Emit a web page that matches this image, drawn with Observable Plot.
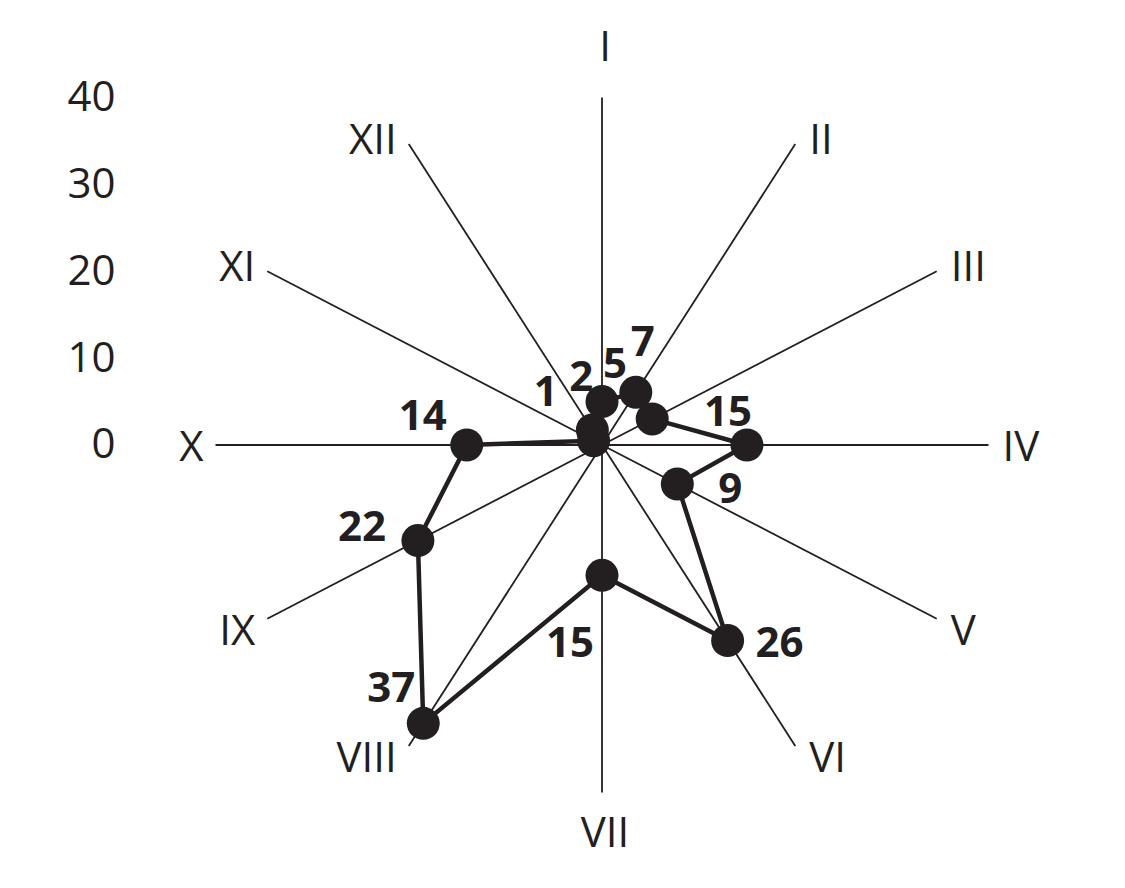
<!DOCTYPE html>
<html>
<head>
<meta charset="utf-8">
<script src="https://cdn.jsdelivr.net/npm/d3@7"></script>
<script src="https://cdn.jsdelivr.net/npm/@observablehq/plot@0.6"></script>
<style>
  html, body { margin: 0; padding: 0; background: #ffffff; }
</style>
</head>
<body>
<div id="chart"></div>
<script>
// ---- data ----
const months = ["I","II","III","IV","V","VI","VII","VIII","IX","X","XI","XII"];
const values = [5, 7, 6, 15, 9, 26, 15, 37, 22, 14, 1, 2];
const valueLabels = ["5","7","","15","9","26","15","37","22","14","1","2"];
const radialTicks = [0, 10, 20, 30, 40];
const spokeLength = 40;

// ---- styling ----
const ink = "#231f20";
const font = "'Open Sans', 'DejaVu Sans', sans-serif";
// pixel nudges for the bold value labels (placement only)
const valueNudge = {
  I: [13, -37], II: [7, -50], IV: [-19, -32], V: [53, 5], VI: [52, 3],
  VII: [-32, 68], VIII: [-32, -35], IX: [-56, -13], X: [-44, -28],
  XI: [-48, -48], XII: [-11, -52]
};

const rad = i => i * Math.PI / 6;
const pts = months.map((m, i) => ({
  m, v: values[i], label: valueLabels[i],
  x: values[i] * Math.sin(rad(i)),
  y: values[i] * Math.cos(rad(i))
}));
const spokes = months.map((m, i) => {
  const s = Math.sin(rad(i)), c = Math.cos(rad(i));
  let anchor = "middle", dx = 0, dy = 0;
  if (s > 0.1) { anchor = "start"; dx = 14; }
  else if (s < -0.1) { anchor = "end"; dx = -12; }
  if (Math.abs(s) <= 0.1) { dy = c > 0 ? -50 : 41; dx = 3; }
  else if (c > 0.1) dy = -4;
  else if (c < -0.1) dy = 13;
  else dy = 3;
  return { m, x0: 0, y0: 0, x: spokeLength * s, y: spokeLength * c, anchor, dx, dy };
});

const spokeLabelMarks = spokes.map(d => Plot.text([d], {
  x: "x", y: "y", text: "m", textAnchor: d.anchor, dx: d.dx, dy: d.dy,
  fill: ink, fontSize: 42, fontFamily: font
}));
const valueLabelMarks = pts.filter(d => d.label).map(d => Plot.text([d], {
  x: "x", y: "y", text: "label", textAnchor: "middle",
  dx: valueNudge[d.m][0], dy: valueNudge[d.m][1],
  fill: ink, fontSize: 42, fontWeight: "bold", fontFamily: font
}));

const chart = Plot.plot({
  width: 1125,
  height: 888,
  marginTop: 97,
  marginBottom: 96,
  marginLeft: 215,
  marginRight: 137,
  x: { domain: [-spokeLength, spokeLength], axis: null },
  y: { domain: [-spokeLength, spokeLength] },
  style: { fontFamily: font, fontSize: "42px", color: ink, background: "#ffffff" },
  marks: [
    Plot.axisY({ ticks: radialTicks, tickSize: 0, tickPadding: 100, label: null, fontSize: 42, fill: ink }),
    Plot.link(spokes, { x1: "x0", y1: "y0", x2: "x", y2: "y", stroke: ink, strokeWidth: 1.8 }),
    Plot.line(pts, { x: "x", y: "y", curve: "linear-closed", stroke: ink, strokeWidth: 4.5 }),
    Plot.dot(pts, { x: "x", y: "y", r: 16.5, fill: ink }),
    ...spokeLabelMarks,
    ...valueLabelMarks
  ]
});
document.getElementById("chart").appendChild(chart);
</script>
</body>
</html>
